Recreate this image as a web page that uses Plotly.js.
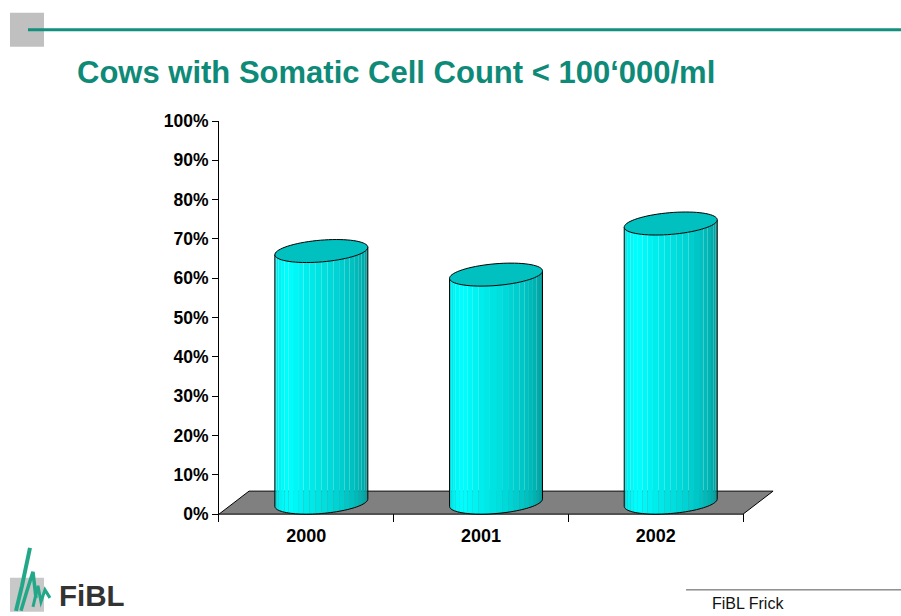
<!DOCTYPE html>
<html><head><meta charset="utf-8">
<script src="https://cdn.plot.ly/plotly-3.0.1.min.js"></script>
<style>html,body{margin:0;padding:0;background:#fff;} #chart{width:901px;height:616px;}</style>
</head><body><div id="chart"></div>
<script>
// ---- data ----
const years = ['2000', '2001', '2002'];
const shares = [0.64, 0.58, 0.71];
const yTickVals = [0, 0.1, 0.2, 0.3, 0.4, 0.5, 0.6, 0.7, 0.8, 0.9, 1.0];
const titleText = 'Cows with Somatic Cell Count < 100‘000/ml';
const footerText = 'FiBL Frick';
const logoText = 'FiBL';

// ---- geometry / style ----
const W = 901, H = 616;
const L = 219, T = 121.3, PXU = 174.67, PYU = 393;
const XMAX = 3.2, YMIN = -0.02;
const plotW = XMAX * PXU, plotH = (1 - YMIN) * PYU;
const R = W - L - plotW, B = H - T - plotH;
const depthX = 30 / PXU, depthY = 23 / PYU;
const radA = 44 / PXU;
const bX = depthX / 2, bY = depthY / 2;
const t0 = Math.atan(bX / radA);
const NF = 24;
const FONT = 'Liberation Sans, Arial, sans-serif';

function px(x) { return (x - L) / plotW; }
function py(y) { return (H - B - y) / plotH; }
function pathStr(pts, close) {
  return pts.map((q, i) => (i ? 'L' : 'M') + q[0].toFixed(5) + ',' + q[1].toFixed(5)).join(' ') + (close ? ' Z' : '');
}
function ell(cx, cy, t) { return [cx + radA * Math.cos(t) + bX * Math.sin(t), cy + bY * Math.sin(t)]; }

const stops = [[0, 205], [0.12, 240], [0.25, 255], [0.4, 236], [0.6, 212], [0.8, 182], [1, 140]];
function shade(s) {
  for (let i = 0; i < stops.length - 1; i++) {
    if (s <= stops[i + 1][0]) {
      const f = (s - stops[i][0]) / (stops[i + 1][0] - stops[i][0]);
      const g = Math.round(stops[i][1] + f * (stops[i + 1][1] - stops[i][1]));
      return 'rgb(0,' + g + ',' + g + ')';
    }
  }
  return 'rgb(0,140,140)';
}

const shapes = [];
// floor
shapes.push({type: 'path', xref: 'x', yref: 'y', layer: 'above',
  path: pathStr([[0, 0], [years.length, 0], [years.length + depthX, depthY], [depthX, depthY]], true),
  fillcolor: '#808080', line: {color: '#000', width: 1}});

years.forEach((yr, i) => {
  const cx = i + 0.5 + bX;
  const cyB = bY, cyT = shares[i] + bY;
  for (let k = 0; k < NF; k++) {
    const ta = t0 - Math.PI + k * Math.PI / NF;
    const tb = t0 - Math.PI + (k + 1) * Math.PI / NF;
    shapes.push({type: 'path', xref: 'x', yref: 'y', layer: 'above',
      path: pathStr([ell(cx, cyT, ta), ell(cx, cyT, tb), ell(cx, cyB, tb), ell(cx, cyB, ta)], true),
      fillcolor: shade((k + 0.5) / NF), line: {width: 0}});
  }
  const out = [ell(cx, cyT, t0 - Math.PI)];
  for (let k = 0; k <= 48; k++) out.push(ell(cx, cyB, t0 - Math.PI + k * Math.PI / 48));
  out.push(ell(cx, cyT, t0));
  shapes.push({type: 'path', xref: 'x', yref: 'y', layer: 'above', path: pathStr(out, false),
    line: {color: '#000', width: 1}});
  const top = [];
  for (let k = 0; k < 72; k++) top.push(ell(cx, cyT, k * 2 * Math.PI / 72));
  shapes.push({type: 'path', xref: 'x', yref: 'y', layer: 'above', path: pathStr(top, true),
    fillcolor: '#00C0C0', line: {color: '#000', width: 1}});
});

// page decorations
shapes.push({type: 'rect', xref: 'paper', yref: 'paper', x0: px(10), x1: px(44), y0: py(13), y1: py(47),
  fillcolor: '#C0C0C0', line: {width: 0}, layer: 'above'});
shapes.push({type: 'line', xref: 'paper', yref: 'paper', x0: px(28), x1: px(901), y0: py(30), y1: py(30),
  line: {color: '#138F7E', width: 3}, layer: 'above'});
shapes.push({type: 'line', xref: 'paper', yref: 'paper', x0: px(686), x1: px(901), y0: py(590), y1: py(590),
  line: {color: '#555', width: 1}, layer: 'above'});
shapes.push({type: 'rect', xref: 'paper', yref: 'paper', x0: px(10), x1: px(44), y0: py(578), y1: py(612),
  fillcolor: '#C8C8C8', line: {width: 0}, layer: 'above'});
const grass = [
  [[16, 611], [22, 586], [30, 548]],
  [[21, 611], [27, 591], [33, 572], [36, 598]],
  [[33, 607], [38, 586], [41, 602], [45, 590], [50, 598]]
];
grass.forEach((g, j) => {
  shapes.push({type: 'path', xref: 'paper', yref: 'paper', layer: 'above',
    path: pathStr(g.map(p => [px(p[0]), py(p[1])]), false),
    line: {color: '#22A889', width: [4, 3.5, 3][j]}});
});

const data = [
  {type: 'scatter', x: years.map((_, i) => i + 0.5), y: shares, mode: 'markers',
   marker: {opacity: 0}, hoverinfo: 'skip', showlegend: false, xaxis: 'x', yaxis: 'y'},
  {type: 'scatter', x: [0, years.length], y: [0, 0], mode: 'markers',
   marker: {opacity: 0}, hoverinfo: 'skip', showlegend: false, xaxis: 'x2', yaxis: 'y'}
];

const layout = {
  width: W, height: H,
  margin: {l: L, r: R, t: T, b: B, pad: 0},
  paper_bgcolor: '#fff', plot_bgcolor: 'rgba(0,0,0,0)',
  showlegend: false,
  title: {text: titleText, x: 77 / W, xanchor: 'left', xref: 'container',
    y: 1 - 72 / H, yanchor: 'middle', yref: 'container',
    font: {family: FONT, size: 31, color: '#0E8A78', weight: 'bold'}},
  xaxis: {range: [0, XMAX], tickvals: years.map((_, i) => i + 0.5), ticktext: years,
    ticks: '', showline: false, showgrid: false, zeroline: false, ticklabelstandoff: 1,
    tickfont: {family: FONT, size: 18, color: '#000', weight: 'bold'}, fixedrange: true},
  xaxis2: {range: [0, XMAX], overlaying: 'x', anchor: 'y', side: 'bottom',
    tickvals: years.map((_, i) => i).concat([years.length]), ticks: 'inside', ticklen: 8,
    tickcolor: '#000', tickwidth: 1, showticklabels: false, showline: false, showgrid: false, zeroline: false},
  yaxis: {range: [YMIN, 1], tickvals: yTickVals, tickformat: '.0%', ticks: 'outside', ticklen: 6,
    tickcolor: '#000', tickwidth: 1, showline: true, linecolor: '#000', linewidth: 1,
    showgrid: false, zeroline: false, ticklabelstandoff: 0,
    tickfont: {family: FONT, size: 17.5, color: '#000', weight: 'bold'}, fixedrange: true},
  shapes: shapes,
  annotations: [
    {xref: 'paper', yref: 'paper', x: px(57), y: py(596), xanchor: 'left', yanchor: 'middle',
     text: logoText, showarrow: false, font: {family: FONT, size: 29.5, color: '#333', weight: 'bold'}},
    {xref: 'paper', yref: 'paper', x: px(710), y: py(604), xanchor: 'left', yanchor: 'middle',
     text: footerText, showarrow: false, font: {family: FONT, size: 16, color: '#111'}}
  ]
};

Plotly.newPlot('chart', data, layout, {staticPlot: true, displayModeBar: false});
</script>
</body></html>
